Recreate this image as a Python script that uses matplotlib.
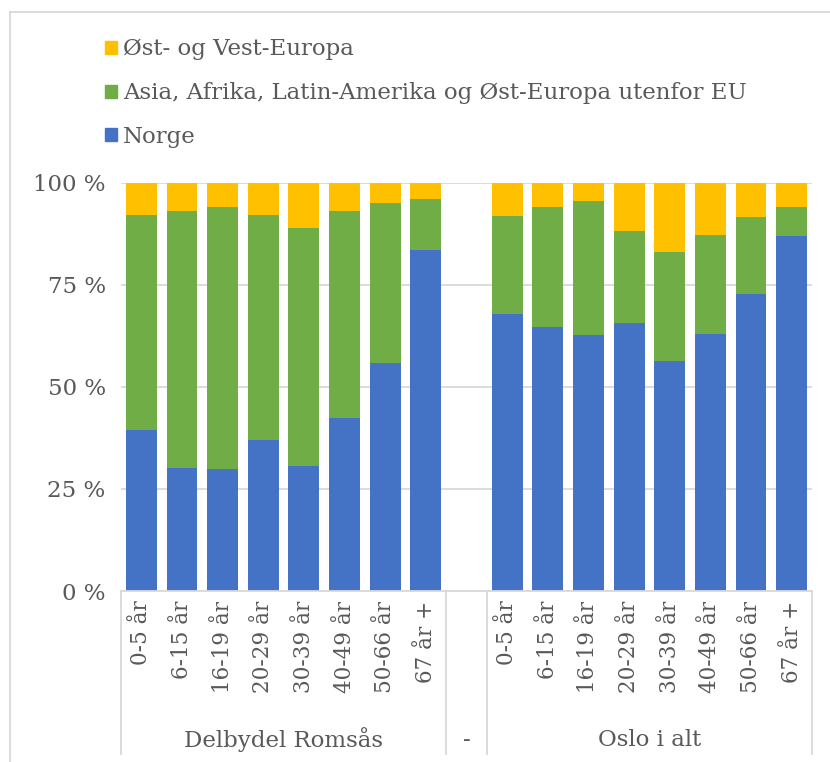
import numpy as np
import matplotlib
matplotlib.use('Agg')
import matplotlib.pyplot as plt
from matplotlib.patches import Patch
from matplotlib.lines import Line2D
import matplotlib.transforms as mtransforms

aldersgrupper = ['0-5 år', '6-15 år', '16-19 år', '20-29 år', '30-39 år', '40-49 år', '50-66 år', '67 år +']
grupper = ['Delbydel Romsås', '-', 'Oslo i alt']

# andeler i prosent (Romsås, så Oslo)
norge_romsas = [39.5, 30.1, 29.9, 37.0, 30.6, 42.4, 55.9, 83.6]
asia_romsas = [52.7, 63.0, 64.2, 55.2, 58.4, 50.7, 39.2, 12.5]
europa_romsas = [7.8, 6.9, 5.9, 7.8, 11.0, 6.9, 4.9, 3.9]

norge_oslo = [67.8, 64.6, 62.7, 65.6, 56.4, 63.1, 72.8, 86.9]
asia_oslo = [24.2, 29.6, 33.0, 22.6, 26.8, 24.1, 18.8, 7.2]
europa_oslo = [8.0, 5.8, 4.3, 11.8, 16.8, 12.8, 8.4, 5.9]

serier = ['Øst- og Vest-Europa', 'Asia, Afrika, Latin-Amerika og Øst-Europa utenfor EU', 'Norge']
farger = {'Norge': '#4472C4', 'Asia': '#70AD47', 'Europa': '#FFC000'}
tekstfarge = '#595959'

plt.rcParams['font.family'] = ['DejaVu Serif']

# sett sammen med et tomt felt i midten
norge = np.array(norge_romsas + [0] + norge_oslo)
asia = np.array(asia_romsas + [0] + asia_oslo)
europa = np.array(europa_romsas + [0] + europa_oslo)
labels = aldersgrupper + [''] + aldersgrupper
x = np.arange(len(labels))

fig = plt.figure(figsize=(8.3, 7.62), dpi=100)
ax = fig.add_axes([121/830, 1 - 591/762, 691/830, 408/762])

b = 0.76
ax.bar(x, norge, width=b, color=farger['Norge'], zorder=2)
ax.bar(x, asia, width=b, bottom=norge, color=farger['Asia'], zorder=2)
ax.bar(x, europa, width=b, bottom=norge + asia, color=farger['Europa'], zorder=2)

ax.set_xlim(-0.5, len(labels) - 0.5)
ax.set_ylim(0, 100)
ax.set_yticks([0, 25, 50, 75, 100])
ax.set_yticklabels(['0 %', '25 %', '50 %', '75 %', '100 %'])
ax.yaxis.grid(True, color='#d9d9d9', linewidth=1.3, zorder=0)
ax.set_axisbelow(True)
ax.tick_params(axis='y', length=0, pad=11, labelsize=16.5, labelcolor=tekstfarge)

ax.set_xticks(x)
ax.set_xticklabels(labels, rotation=90, va='top', ha='center')
ax.tick_params(axis='x', length=0, pad=7, labelsize=15.5, labelcolor=tekstfarge)

for s in ['top', 'right', 'left']:
    ax.spines[s].set_visible(False)
ax.spines['bottom'].set_color('#d9d9d9')
ax.spines['bottom'].set_linewidth(1.3)

# gruppeetiketter og skillelinjer
trans = mtransforms.blended_transform_factory(ax.transData, ax.transAxes)
for kant in [-0.5, 7.5, 8.5, 16.5]:
    ax.plot([kant, kant], [0, -0.40], transform=trans, color='#d9d9d9',
            linewidth=1.3, clip_on=False)
for pos, navn in zip([3.5, 8, 12.5], grupper):
    ax.text(pos, -0.365, navn, transform=trans, ha='center', va='center',
            fontsize=16.5, color=tekstfarge)

# legende
handles = [Patch(color=farger['Europa']), Patch(color=farger['Asia']), Patch(color=farger['Norge'])]
fig.legend(handles, serier, loc='upper left', bbox_to_anchor=(94/830, 1 - 27/762),
           frameon=False, fontsize=16.5, labelcolor=tekstfarge, handlelength=0.5,
           handleheight=0.5, handletextpad=0.25, labelspacing=0.95, borderpad=0)

# ramme
fig.add_artist(Line2D([10/830, 10/830], [0, 1 - 12/762], color='#d9d9d9', linewidth=1.3))
fig.add_artist(Line2D([10/830, 1], [1 - 12/762, 1 - 12/762], color='#d9d9d9', linewidth=1.3))

fig.savefig('out.png', dpi=100)
